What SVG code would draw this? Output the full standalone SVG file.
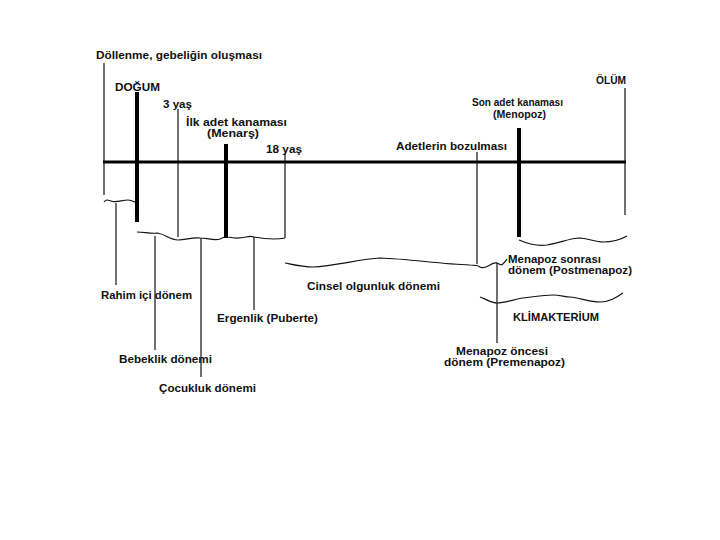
<svg xmlns="http://www.w3.org/2000/svg" width="720" height="540" viewBox="0 0 720 540">
<style>
.t{font-family:"Liberation Sans",Arial,sans-serif;font-weight:bold;font-size:10px;fill:#111}
.c{font-family:"Liberation Sans",Arial,sans-serif;font-weight:bold;font-size:10px;fill:#111}
.thin{stroke:#111;stroke-width:1.2;fill:none}
.thick{stroke:#000;stroke-width:4;fill:none}
.axis{stroke:#000;stroke-width:3;fill:none}
.brace{stroke:#111;stroke-width:1.2;fill:none}
</style>
<rect width="720" height="540" fill="#fff"/>
<g id="connectors">
<line class="axis" x1="103" y1="162" x2="626" y2="162"/>
</g>
<g id="dollenme">
<text class="t" x="96" y="59" textLength="166" lengthAdjust="spacingAndGlyphs">Döllenme, gebeliğin oluşması</text>
<line class="thin" x1="104" y1="63" x2="104" y2="195"/>
</g>
<g id="dogum">
<text class="t" x="115" y="91" textLength="45" lengthAdjust="spacingAndGlyphs">DOĞUM</text>
<line class="thick" x1="137" y1="92" x2="137" y2="222"/>
</g>
<g id="yas3">
<text class="t" x="163" y="108" textLength="29" lengthAdjust="spacingAndGlyphs">3 yaş</text>
<line class="thin" x1="178" y1="109" x2="178" y2="237"/>
</g>
<g id="menars">
<text class="t" x="186" y="126" textLength="101" lengthAdjust="spacingAndGlyphs">İlk adet kanaması</text>
<text class="t" x="207" y="137" textLength="52" lengthAdjust="spacingAndGlyphs">(Menarş)</text>
<line class="thick" x1="226" y1="144" x2="226" y2="238"/>
</g>
<g id="yas18">
<text class="t" x="266" y="153" textLength="36" lengthAdjust="spacingAndGlyphs">18 yaş</text>
<line class="thin" x1="285" y1="153" x2="285" y2="238"/>
</g>
<g id="adetlerin">
<text class="t" x="396" y="150" textLength="111" lengthAdjust="spacingAndGlyphs">Adetlerin bozulması</text>
<line class="thin" x1="477" y1="152" x2="477" y2="264"/>
</g>
<g id="menopoz">
<text class="c" x="472" y="106" textLength="91" lengthAdjust="spacingAndGlyphs">Son adet kanaması</text>
<text class="c" x="493" y="118" textLength="53" lengthAdjust="spacingAndGlyphs">(Menopoz)</text>
<line class="thick" x1="519" y1="128" x2="519" y2="237"/>
</g>
<g id="olum">
<text class="t" x="596" y="84" textLength="30" lengthAdjust="spacingAndGlyphs">ÖLÜM</text>
<line class="thin" x1="625" y1="88" x2="625" y2="215"/>
</g>
<g id="rahim">
<path class="brace" d="M104,202 C106,199 108,200 111,201 C116,203 122,200 128,200 C132,200 134,202 137,203"/>
<line class="thin" x1="116" y1="203" x2="116" y2="285"/>
<text class="t" x="101" y="299" textLength="91" lengthAdjust="spacingAndGlyphs">Rahim içi dönem</text>
</g>
<g id="cocukluk-brace">
<path class="brace" d="M137,232 C145,232 150,234 157,233 C165,234 170,240 178,240 C186,240 192,237 200,238 C208,238 214,241 220,239 C224,237 226,236 228,237 C236,239 242,238 246,237 C250,236 252,236 254,237 C265,239 275,240 285,238"/>
</g>
<g id="bebeklik">
<line class="thin" x1="155" y1="236" x2="155" y2="350"/>
<text class="t" x="119" y="363" textLength="93" lengthAdjust="spacingAndGlyphs">Bebeklik dönemi</text>
</g>
<g id="cocukluk">
<line class="thin" x1="201" y1="238" x2="201" y2="377"/>
<text class="t" x="159" y="392" textLength="97" lengthAdjust="spacingAndGlyphs">Çocukluk dönemi</text>
</g>
<g id="ergenlik">
<line class="thin" x1="254" y1="237" x2="254" y2="310"/>
<text class="t" x="217" y="322" textLength="101" lengthAdjust="spacingAndGlyphs">Ergenlik (Puberte)</text>
</g>
<g id="cinsel">
<path class="brace" d="M285,263 C295,265 303,267 313,267 C335,266 360,259 380,258 C410,259 440,264 470,265 C475,265 478,265 480,267 C483,269 486,267 490,265 C493,263 496,262 499,264 C502,266 504,263 507,259"/>
<text class="t" x="307" y="290" textLength="133" lengthAdjust="spacingAndGlyphs">Cinsel olgunluk dönemi</text>
</g>
<g id="postmenapoz">
<path class="brace" d="M519,240 C528,244 538,246 547,245 C560,243 570,238 580,238 C590,239 596,242 603,242 C612,242 620,240 627,236"/>
<text class="t" x="508" y="263" textLength="93" lengthAdjust="spacingAndGlyphs">Menapoz sonrası</text>
<text class="t" x="508" y="274" textLength="124" lengthAdjust="spacingAndGlyphs">dönem (Postmenapoz)</text>
</g>
<g id="klimakterium">
<path class="brace" d="M480,297 C486,299 491,303 497,303 C505,303 515,299 523,298 C533,297 543,295 553,295 C560,295 565,297 570,297 C580,298 590,302 600,302 C610,302 617,297 623,293"/>
<text class="t" x="513" y="321" textLength="86" lengthAdjust="spacingAndGlyphs">KLİMAKTERİUM</text>
</g>
<g id="premenapoz">
<line class="thin" x1="497" y1="263" x2="497" y2="343"/>
<text class="t" x="456" y="355" textLength="92" lengthAdjust="spacingAndGlyphs">Menapoz öncesi</text>
<text class="t" x="444" y="366" textLength="121" lengthAdjust="spacingAndGlyphs">dönem (Premenapoz)</text>
</g>
</svg>
